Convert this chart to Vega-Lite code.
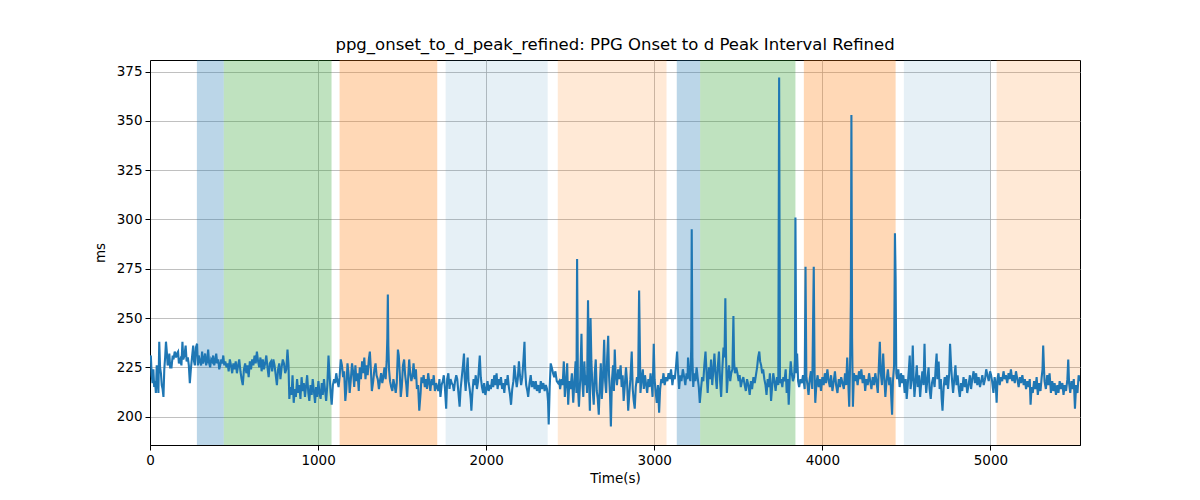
{
  "$schema": "https://vega.github.io/schema/vega-lite/v6.json",
  "width": 930,
  "height": 385,
  "autosize": "none",
  "padding": {"left": 150, "top": 60, "right": 120, "bottom": 55},
  "title": {
    "text": "ppg_onset_to_d_peak_refined: PPG Onset to d Peak Interval Refined",
    "font": "DejaVu Sans",
    "fontSize": 16.5,
    "fontWeight": "normal",
    "color": "black",
    "anchor": "middle",
    "offset": 7
  },
  "datasets": {
    "spans": [
      {"start": 279, "end": 439, "phase": "a"},
      {"start": 439, "end": 1080, "phase": "b"},
      {"start": 1128, "end": 1709, "phase": "c"},
      {"start": 1759, "end": 2366, "phase": "d"},
      {"start": 2426, "end": 3073, "phase": "e"},
      {"start": 3134, "end": 3273, "phase": "a"},
      {"start": 3273, "end": 3840, "phase": "b"},
      {"start": 3890, "end": 4436, "phase": "c"},
      {"start": 4485, "end": 5001, "phase": "d"},
      {"start": 5037, "end": 5560, "phase": "e"}
    ],
    "series": [
      {"t":0,"v":229},{"t":5,"v":231},{"t":10,"v":221},{"t":15,"v":217},{"t":20,"v":224},{"t":25,"v":215},{"t":30,"v":218},{"t":35,"v":212},{"t":40,"v":226},{"t":45,"v":220},{"t":50,"v":212},{"t":55,"v":238},{"t":60,"v":225},{"t":65,"v":222},{"t":70,"v":216},{"t":75,"v":214},{"t":80,"v":210},{"t":85,"v":224},{"t":90,"v":230},{"t":95,"v":238},{"t":100,"v":233},{"t":105,"v":226},{"t":110,"v":227},{"t":115,"v":232},{"t":120,"v":225},{"t":128,"v":225},{"t":135,"v":231},{"t":140,"v":229},{"t":147,"v":233},{"t":155,"v":230},{"t":160,"v":232},{"t":167,"v":233},{"t":172,"v":227},{"t":180,"v":229},{"t":187,"v":226},{"t":193,"v":238},{"t":198,"v":229},{"t":205,"v":231},{"t":212,"v":236},{"t":218,"v":228},{"t":225,"v":230},{"t":231,"v":226},{"t":237,"v":217},{"t":243,"v":224},{"t":250,"v":230},{"t":257,"v":236},{"t":262,"v":228},{"t":267,"v":226},{"t":273,"v":235},{"t":280,"v":237},{"t":285,"v":226},
      {"t":290,"v":231},{"t":297,"v":228},{"t":304,"v":226},{"t":310,"v":233},{"t":316,"v":227},{"t":322,"v":229},{"t":328,"v":232},{"t":334,"v":226},{"t":340,"v":228},{"t":346,"v":234},{"t":352,"v":227},{"t":358,"v":225},{"t":364,"v":229},{"t":370,"v":228},{"t":376,"v":231},{"t":382,"v":226},{"t":388,"v":228},{"t":394,"v":232},{"t":400,"v":227},{"t":406,"v":229},{"t":412,"v":224},{"t":418,"v":226},{"t":424,"v":229},{"t":430,"v":227},{"t":436,"v":231},{"t":442,"v":226},
      {"t":448,"v":228},{"t":455,"v":225},{"t":462,"v":227},{"t":468,"v":223},{"t":475,"v":229},{"t":482,"v":226},{"t":489,"v":222},{"t":496,"v":227},{"t":503,"v":224},{"t":510,"v":228},{"t":517,"v":222},{"t":524,"v":226},{"t":531,"v":229},{"t":538,"v":223},{"t":545,"v":219},{"t":552,"v":216},{"t":559,"v":224},{"t":566,"v":227},{"t":573,"v":222},{"t":580,"v":226},{"t":587,"v":220},{"t":594,"v":228},{"t":601,"v":224},{"t":608,"v":229},{"t":615,"v":226},{"t":622,"v":231},{"t":629,"v":227},{"t":636,"v":233},{"t":643,"v":228},{"t":650,"v":225},{"t":657,"v":230},{"t":664,"v":223},{"t":671,"v":229},{"t":678,"v":224},{"t":685,"v":227},{"t":692,"v":231},{"t":699,"v":225},{"t":706,"v":220},{"t":713,"v":227},{"t":720,"v":228},{"t":727,"v":223},{"t":734,"v":229},{"t":741,"v":226},{"t":748,"v":221},{"t":755,"v":216},{"t":762,"v":224},{"t":769,"v":227},{"t":776,"v":219},{"t":783,"v":225},{"t":790,"v":229},{"t":797,"v":227},{"t":804,"v":222},{"t":811,"v":224},{"t":818,"v":234},{"t":824,"v":226},{"t":829,"v":209},{"t":835,"v":215},{"t":842,"v":211},{"t":848,"v":221},
      {"t":855,"v":207},{"t":862,"v":214},{"t":868,"v":210},{"t":875,"v":219},{"t":882,"v":212},{"t":888,"v":216},{"t":895,"v":209},{"t":902,"v":220},{"t":908,"v":213},{"t":915,"v":217},{"t":922,"v":210},{"t":928,"v":215},{"t":935,"v":221},{"t":942,"v":212},{"t":948,"v":208},{"t":955,"v":216},{"t":962,"v":211},{"t":968,"v":219},{"t":975,"v":213},{"t":982,"v":207},{"t":988,"v":215},{"t":995,"v":210},{"t":1002,"v":218},{"t":1008,"v":212},{"t":1015,"v":209},{"t":1022,"v":217},{"t":1028,"v":211},{"t":1035,"v":219},{"t":1042,"v":213},{"t":1048,"v":208},{"t":1055,"v":216},{"t":1062,"v":231},{"t":1068,"v":221},{"t":1075,"v":212},{"t":1081,"v":206},
      {"t":1088,"v":216},{"t":1095,"v":219},{"t":1102,"v":217},{"t":1108,"v":222},{"t":1115,"v":218},{"t":1122,"v":215},{"t":1128,"v":220},
      {"t":1135,"v":229},{"t":1142,"v":226},{"t":1149,"v":220},{"t":1155,"v":223},{"t":1162,"v":208},{"t":1168,"v":214},{"t":1175,"v":227},{"t":1182,"v":221},{"t":1188,"v":212},{"t":1195,"v":219},{"t":1202,"v":227},{"t":1208,"v":223},{"t":1215,"v":215},{"t":1222,"v":226},{"t":1228,"v":218},{"t":1235,"v":222},{"t":1242,"v":213},{"t":1248,"v":225},{"t":1255,"v":219},{"t":1262,"v":228},{"t":1268,"v":222},{"t":1275,"v":230},{"t":1282,"v":219},{"t":1288,"v":226},{"t":1295,"v":221},{"t":1302,"v":229},{"t":1308,"v":233},{"t":1314,"v":224},{"t":1320,"v":213},{"t":1328,"v":218},{"t":1335,"v":224},{"t":1342,"v":227},{"t":1348,"v":221},{"t":1355,"v":219},{"t":1362,"v":214},{"t":1368,"v":218},{"t":1375,"v":222},{"t":1382,"v":217},{"t":1388,"v":220},{"t":1395,"v":225},{"t":1402,"v":219},{"t":1408,"v":228},{"t":1412,"v":240},{"t":1415,"v":262},{"t":1418,"v":236},{"t":1422,"v":224},{"t":1428,"v":218},{"t":1435,"v":215},{"t":1442,"v":213},{"t":1448,"v":219},{"t":1455,"v":216},{"t":1462,"v":212},{"t":1468,"v":217},{"t":1475,"v":234},{"t":1480,"v":231},{"t":1486,"v":222},{"t":1492,"v":210},{"t":1498,"v":215},{"t":1505,"v":226},{"t":1512,"v":229},{"t":1518,"v":221},{"t":1525,"v":216},{"t":1530,"v":210},{"t":1535,"v":218},{"t":1542,"v":229},{"t":1548,"v":222},{"t":1555,"v":218},{"t":1562,"v":221},{"t":1568,"v":227},{"t":1575,"v":219},{"t":1582,"v":224},{"t":1588,"v":214},{"t":1595,"v":216},{"t":1602,"v":203},{"t":1610,"v":212},{"t":1615,"v":220},{"t":1622,"v":217},{"t":1628,"v":221},{"t":1635,"v":215},{"t":1642,"v":219},{"t":1648,"v":214},{"t":1655,"v":222},{"t":1662,"v":217},{"t":1668,"v":213},{"t":1675,"v":219},{"t":1682,"v":216},{"t":1688,"v":221},{"t":1695,"v":213},{"t":1702,"v":217},{"t":1708,"v":215},
      {"t":1715,"v":213},{"t":1722,"v":219},{"t":1728,"v":210},{"t":1735,"v":216},{"t":1742,"v":218},{"t":1748,"v":221},{"t":1755,"v":214},{"t":1762,"v":204},
      {"t":1768,"v":219},{"t":1775,"v":222},{"t":1782,"v":214},{"t":1788,"v":219},{"t":1795,"v":217},{"t":1802,"v":216},{"t":1808,"v":213},{"t":1815,"v":218},{"t":1822,"v":221},{"t":1828,"v":219},{"t":1835,"v":212},{"t":1842,"v":205},{"t":1848,"v":214},{"t":1855,"v":220},{"t":1862,"v":226},{"t":1868,"v":232},{"t":1872,"v":220},{"t":1878,"v":213},{"t":1885,"v":224},{"t":1890,"v":230},{"t":1895,"v":218},{"t":1902,"v":214},{"t":1908,"v":209},{"t":1912,"v":203},{"t":1918,"v":212},{"t":1925,"v":219},{"t":1932,"v":216},{"t":1938,"v":221},{"t":1945,"v":214},{"t":1952,"v":218},{"t":1958,"v":226},{"t":1962,"v":231},{"t":1968,"v":220},{"t":1975,"v":215},{"t":1982,"v":212},{"t":1988,"v":217},{"t":1995,"v":211},{"t":2002,"v":214},{"t":2008,"v":218},{"t":2015,"v":213},{"t":2022,"v":216},{"t":2028,"v":214},{"t":2035,"v":219},{"t":2042,"v":215},{"t":2048,"v":221},{"t":2055,"v":216},{"t":2062,"v":222},{"t":2068,"v":214},{"t":2075,"v":219},{"t":2082,"v":216},{"t":2088,"v":220},{"t":2095,"v":214},{"t":2102,"v":217},{"t":2108,"v":212},{"t":2115,"v":219},{"t":2122,"v":216},{"t":2128,"v":221},{"t":2135,"v":215},{"t":2142,"v":211},{"t":2148,"v":206},{"t":2155,"v":214},{"t":2162,"v":218},{"t":2168,"v":226},{"t":2175,"v":220},{"t":2182,"v":215},{"t":2188,"v":219},{"t":2195,"v":228},{"t":2200,"v":222},{"t":2208,"v":216},{"t":2215,"v":220},{"t":2222,"v":229},{"t":2228,"v":238},{"t":2232,"v":224},{"t":2238,"v":216},{"t":2245,"v":213},{"t":2250,"v":210},{"t":2258,"v":217},{"t":2265,"v":221},{"t":2272,"v":215},{"t":2280,"v":218},{"t":2288,"v":214},{"t":2295,"v":218},{"t":2302,"v":213},{"t":2310,"v":216},{"t":2318,"v":212},{"t":2325,"v":218},{"t":2332,"v":214},{"t":2340,"v":217},{"t":2348,"v":213},{"t":2355,"v":216},{"t":2362,"v":214},{"t":2368,"v":208},{"t":2372,"v":196},
      {"t":2378,"v":215},{"t":2384,"v":227},{"t":2390,"v":225},{"t":2398,"v":222},{"t":2405,"v":220},{"t":2412,"v":223},{"t":2420,"v":218},{"t":2428,"v":217},
      {"t":2435,"v":218},{"t":2440,"v":214},{"t":2448,"v":219},{"t":2455,"v":216},{"t":2462,"v":228},{"t":2468,"v":210},{"t":2475,"v":217},{"t":2482,"v":227},{"t":2488,"v":206},{"t":2495,"v":218},{"t":2502,"v":214},{"t":2510,"v":222},{"t":2518,"v":207},{"t":2525,"v":218},{"t":2532,"v":228},{"t":2537,"v":212},{"t":2541,"v":280},{"t":2546,"v":215},{"t":2552,"v":205},{"t":2560,"v":220},{"t":2567,"v":242},{"t":2572,"v":218},{"t":2578,"v":210},{"t":2584,"v":228},{"t":2590,"v":216},{"t":2596,"v":221},{"t":2600,"v":212},{"t":2606,"v":259},{"t":2612,"v":218},{"t":2617,"v":203},{"t":2621,"v":250},{"t":2626,"v":228},{"t":2632,"v":216},{"t":2640,"v":206},{"t":2646,"v":222},{"t":2652,"v":229},{"t":2658,"v":213},{"t":2664,"v":209},{"t":2670,"v":201},{"t":2676,"v":216},{"t":2682,"v":227},{"t":2688,"v":209},{"t":2695,"v":220},{"t":2702,"v":239},{"t":2708,"v":218},{"t":2714,"v":212},{"t":2720,"v":230},{"t":2726,"v":241},{"t":2731,"v":221},{"t":2737,"v":211},{"t":2742,"v":195},{"t":2748,"v":218},{"t":2755,"v":226},{"t":2760,"v":213},{"t":2765,"v":234},{"t":2770,"v":222},{"t":2778,"v":216},{"t":2785,"v":224},{"t":2792,"v":219},{"t":2800,"v":226},{"t":2806,"v":215},{"t":2812,"v":221},{"t":2818,"v":208},{"t":2825,"v":216},{"t":2832,"v":225},{"t":2838,"v":218},{"t":2845,"v":203},{"t":2852,"v":212},{"t":2858,"v":219},{"t":2866,"v":233},{"t":2872,"v":214},{"t":2878,"v":208},{"t":2884,"v":204},{"t":2890,"v":215},{"t":2897,"v":220},{"t":2904,"v":217},{"t":2910,"v":264},{"t":2914,"v":238},{"t":2918,"v":212},{"t":2925,"v":219},{"t":2932,"v":224},{"t":2938,"v":214},{"t":2945,"v":221},{"t":2952,"v":216},{"t":2958,"v":212},{"t":2965,"v":219},{"t":2972,"v":215},{"t":2978,"v":222},{"t":2985,"v":216},{"t":2990,"v":210},{"t":2997,"v":237},{"t":3002,"v":219},{"t":3008,"v":213},{"t":3015,"v":207},{"t":3022,"v":216},{"t":3029,"v":202},{"t":3035,"v":214},{"t":3042,"v":219},{"t":3048,"v":217},{"t":3055,"v":222},{"t":3062,"v":216},{"t":3070,"v":220},
      {"t":3078,"v":218},{"t":3085,"v":222},{"t":3092,"v":219},{"t":3100,"v":224},{"t":3108,"v":216},{"t":3115,"v":221},{"t":3122,"v":219},{"t":3130,"v":226},
      {"t":3136,"v":233},{"t":3142,"v":222},{"t":3148,"v":214},{"t":3155,"v":221},{"t":3162,"v":218},{"t":3170,"v":224},{"t":3178,"v":220},{"t":3185,"v":216},{"t":3192,"v":222},{"t":3198,"v":219},{"t":3201,"v":230},{"t":3208,"v":221},{"t":3215,"v":218},{"t":3220,"v":235},{"t":3223,"v":295},{"t":3227,"v":230},{"t":3232,"v":215},{"t":3238,"v":222},{"t":3245,"v":218},{"t":3252,"v":225},{"t":3258,"v":220},{"t":3265,"v":215},{"t":3271,"v":207},
      {"t":3278,"v":214},{"t":3285,"v":220},{"t":3292,"v":218},{"t":3298,"v":226},{"t":3305,"v":233},{"t":3312,"v":221},{"t":3318,"v":212},{"t":3325,"v":225},{"t":3332,"v":219},{"t":3338,"v":229},{"t":3345,"v":216},{"t":3352,"v":224},{"t":3358,"v":232},{"t":3365,"v":221},{"t":3372,"v":214},{"t":3378,"v":225},{"t":3385,"v":233},{"t":3392,"v":218},{"t":3398,"v":210},{"t":3405,"v":224},{"t":3412,"v":235},{"t":3418,"v":230},{"t":3423,"v":260},{"t":3427,"v":232},{"t":3432,"v":212},{"t":3438,"v":220},{"t":3445,"v":226},{"t":3452,"v":218},{"t":3458,"v":222},{"t":3465,"v":224},{"t":3471,"v":251},{"t":3475,"v":228},{"t":3480,"v":222},{"t":3488,"v":225},{"t":3495,"v":222},{"t":3502,"v":218},{"t":3508,"v":221},{"t":3515,"v":215},{"t":3522,"v":218},{"t":3530,"v":220},{"t":3538,"v":216},{"t":3545,"v":213},{"t":3552,"v":219},{"t":3560,"v":216},{"t":3568,"v":211},{"t":3575,"v":218},{"t":3582,"v":214},{"t":3590,"v":220},{"t":3598,"v":217},{"t":3605,"v":221},{"t":3612,"v":225},{"t":3618,"v":230},{"t":3625,"v":233},{"t":3630,"v":228},{"t":3636,"v":226},{"t":3642,"v":222},{"t":3648,"v":224},{"t":3655,"v":219},{"t":3662,"v":216},{"t":3668,"v":211},{"t":3675,"v":219},{"t":3682,"v":215},{"t":3688,"v":222},{"t":3695,"v":208},{"t":3702,"v":216},{"t":3708,"v":222},{"t":3715,"v":218},{"t":3722,"v":213},{"t":3730,"v":220},{"t":3738,"v":216},{"t":3743,"v":372},{"t":3748,"v":217},{"t":3755,"v":219},{"t":3762,"v":215},{"t":3768,"v":220},{"t":3775,"v":218},{"t":3782,"v":224},{"t":3788,"v":212},{"t":3795,"v":219},{"t":3800,"v":206},{"t":3806,"v":220},{"t":3812,"v":228},{"t":3818,"v":222},{"t":3825,"v":218},{"t":3832,"v":220},{"t":3837,"v":229},{"t":3840,"v":301},{"t":3845,"v":222},
      {"t":3850,"v":232},{"t":3856,"v":218},{"t":3862,"v":215},{"t":3870,"v":219},{"t":3878,"v":217},{"t":3885,"v":221},
      {"t":3895,"v":214},{"t":3900,"v":276},{"t":3905,"v":220},{"t":3912,"v":216},{"t":3918,"v":211},{"t":3925,"v":219},{"t":3932,"v":223},{"t":3940,"v":214},{"t":3949,"v":276},{"t":3954,"v":222},{"t":3958,"v":207},{"t":3965,"v":217},{"t":3972,"v":221},{"t":3978,"v":215},{"t":3985,"v":219},{"t":3992,"v":213},{"t":4000,"v":220},{"t":4008,"v":216},{"t":4015,"v":222},{"t":4022,"v":217},{"t":4030,"v":224},{"t":4038,"v":218},{"t":4045,"v":215},{"t":4052,"v":221},{"t":4060,"v":213},{"t":4068,"v":218},{"t":4075,"v":223},{"t":4082,"v":216},{"t":4090,"v":212},{"t":4098,"v":219},{"t":4105,"v":215},{"t":4112,"v":220},{"t":4120,"v":217},{"t":4128,"v":214},{"t":4135,"v":222},{"t":4142,"v":216},{"t":4148,"v":230},{"t":4154,"v":218},{"t":4160,"v":205},{"t":4165,"v":226},{"t":4170,"v":260},{"t":4173,"v":353},{"t":4177,"v":240},{"t":4182,"v":205},{"t":4188,"v":222},{"t":4195,"v":218},{"t":4202,"v":221},{"t":4210,"v":216},{"t":4218,"v":223},{"t":4225,"v":219},{"t":4232,"v":224},{"t":4240,"v":217},{"t":4248,"v":221},{"t":4255,"v":213},{"t":4262,"v":219},{"t":4270,"v":216},{"t":4278,"v":222},{"t":4285,"v":218},{"t":4292,"v":214},{"t":4300,"v":220},{"t":4308,"v":216},{"t":4315,"v":222},{"t":4322,"v":218},{"t":4330,"v":212},{"t":4336,"v":225},{"t":4342,"v":238},{"t":4348,"v":222},{"t":4355,"v":216},{"t":4362,"v":232},{"t":4368,"v":221},{"t":4375,"v":210},{"t":4382,"v":218},{"t":4390,"v":224},{"t":4398,"v":216},{"t":4405,"v":220},{"t":4411,"v":208},{"t":4415,"v":201},{"t":4420,"v":218},{"t":4427,"v":226},{"t":4432,"v":293},{"t":4436,"v":270},{"t":4440,"v":222},
      {"t":4445,"v":219},{"t":4452,"v":224},{"t":4460,"v":215},{"t":4468,"v":222},{"t":4475,"v":217},{"t":4482,"v":221},
      {"t":4490,"v":212},{"t":4496,"v":219},{"t":4502,"v":209},{"t":4508,"v":216},{"t":4515,"v":224},{"t":4520,"v":231},{"t":4525,"v":214},{"t":4532,"v":219},{"t":4538,"v":236},{"t":4543,"v":220},{"t":4548,"v":210},{"t":4555,"v":218},{"t":4562,"v":226},{"t":4568,"v":215},{"t":4575,"v":221},{"t":4582,"v":210},{"t":4588,"v":217},{"t":4595,"v":223},{"t":4602,"v":216},{"t":4608,"v":237},{"t":4612,"v":222},{"t":4618,"v":212},{"t":4625,"v":219},{"t":4632,"v":225},{"t":4638,"v":214},{"t":4645,"v":209},{"t":4652,"v":217},{"t":4660,"v":220},{"t":4668,"v":215},{"t":4675,"v":226},{"t":4680,"v":232},{"t":4685,"v":219},{"t":4692,"v":228},{"t":4698,"v":214},{"t":4705,"v":219},{"t":4710,"v":209},{"t":4715,"v":203},{"t":4722,"v":215},{"t":4728,"v":220},{"t":4735,"v":216},{"t":4742,"v":221},{"t":4748,"v":214},{"t":4755,"v":222},{"t":4760,"v":237},{"t":4766,"v":226},{"t":4772,"v":218},{"t":4778,"v":212},{"t":4785,"v":219},{"t":4792,"v":226},{"t":4798,"v":216},{"t":4805,"v":221},{"t":4812,"v":214},{"t":4818,"v":210},{"t":4825,"v":217},{"t":4832,"v":213},{"t":4840,"v":220},{"t":4848,"v":215},{"t":4855,"v":219},{"t":4862,"v":212},{"t":4870,"v":216},{"t":4878,"v":221},{"t":4885,"v":214},{"t":4892,"v":219},{"t":4900,"v":223},{"t":4908,"v":217},{"t":4915,"v":222},{"t":4922,"v":216},{"t":4930,"v":220},{"t":4938,"v":215},{"t":4945,"v":218},{"t":4952,"v":221},{"t":4960,"v":216},{"t":4968,"v":219},{"t":4975,"v":224},{"t":4982,"v":221},{"t":4990,"v":218},{"t":4998,"v":223},{"t":5004,"v":221},
      {"t":5010,"v":218},{"t":5018,"v":212},{"t":5025,"v":220},{"t":5032,"v":216},{"t":5037,"v":207},
      {"t":5042,"v":219},{"t":5048,"v":222},{"t":5055,"v":216},{"t":5062,"v":220},{"t":5070,"v":218},{"t":5078,"v":223},{"t":5085,"v":219},{"t":5092,"v":221},{"t":5100,"v":217},{"t":5108,"v":222},{"t":5115,"v":219},{"t":5122,"v":224},{"t":5130,"v":218},{"t":5138,"v":221},{"t":5145,"v":217},{"t":5152,"v":223},{"t":5160,"v":219},{"t":5168,"v":215},{"t":5175,"v":220},{"t":5182,"v":217},{"t":5190,"v":221},{"t":5198,"v":216},{"t":5205,"v":219},{"t":5212,"v":214},{"t":5220,"v":218},{"t":5228,"v":215},{"t":5234,"v":219},{"t":5239,"v":206},{"t":5245,"v":215},{"t":5252,"v":212},{"t":5260,"v":218},{"t":5268,"v":214},{"t":5275,"v":220},{"t":5282,"v":211},{"t":5290,"v":217},{"t":5298,"v":213},{"t":5305,"v":220},{"t":5310,"v":224},{"t":5314,"v":236},{"t":5318,"v":226},{"t":5322,"v":218},{"t":5330,"v":214},{"t":5338,"v":221},{"t":5345,"v":216},{"t":5352,"v":222},{"t":5360,"v":212},{"t":5368,"v":218},{"t":5375,"v":213},{"t":5382,"v":217},{"t":5390,"v":211},{"t":5398,"v":216},{"t":5405,"v":212},{"t":5412,"v":218},{"t":5420,"v":214},{"t":5428,"v":217},{"t":5435,"v":211},{"t":5442,"v":216},{"t":5450,"v":213},{"t":5458,"v":219},{"t":5463,"v":229},{"t":5468,"v":217},{"t":5475,"v":212},{"t":5482,"v":218},{"t":5490,"v":214},{"t":5496,"v":219},{"t":5503,"v":204},{"t":5510,"v":216},{"t":5518,"v":212},{"t":5525,"v":221},{"t":5533,"v":218}
    ]
  },
  "layer": [
    {
      "data": {"name": "spans"},
      "mark": {"type": "rect", "clip": true},
      "encoding": {
        "x": {"field": "start", "type": "quantitative"},
        "x2": {"field": "end"},
        "color": {
          "field": "phase",
          "type": "nominal",
          "legend": null,
          "scale": {
            "domain": ["a", "b", "c", "d", "e"],
            "range": ["rgba(31,119,180,0.3)", "rgba(44,160,44,0.3)", "rgba(255,127,14,0.3)", "rgba(31,119,180,0.115)", "rgba(255,127,14,0.17)"]
          }
        }
      }
    },
    {
      "data": {"name": "series"},
      "mark": {"type": "line", "color": "#1f77b4", "strokeWidth": 2.1, "clip": true},
      "encoding": {
        "x": {
          "field": "t",
          "type": "quantitative",
          "title": "Time(s)",
          "scale": {"domain": [0, 5533], "nice": false, "zero": false},
          "axis": {"values": [0, 1000, 2000, 3000, 4000, 5000], "format": "d"}
        },
        "y": {
          "field": "v",
          "type": "quantitative",
          "title": "ms",
          "scale": {"domain": [185.6, 380.9], "nice": false, "zero": false},
          "axis": {"values": [200, 225, 250, 275, 300, 325, 350, 375]}
        }
      }
    }
  ],
  "config": {
    "view": {"stroke": "black", "strokeWidth": 1},
    "axis": {
      "labelFont": "DejaVu Sans",
      "labelFontSize": 13.5,
      "labelColor": "black",
      "titleFont": "DejaVu Sans",
      "titleFontSize": 13.5,
      "titleFontWeight": "normal",
      "titleColor": "black",
      "domainColor": "black",
      "tickColor": "black",
      "tickSize": 5,
      "labelPadding": 3,
      "gridColor": "#b0b0b0",
      "gridWidth": 0.8,
      "gridOpacity": 1
    },
    "axisX": {"titlePadding": 5, "labelFlush": false},
    "axisY": {"titlePadding": 9, "labelFlush": false}
  }
}
